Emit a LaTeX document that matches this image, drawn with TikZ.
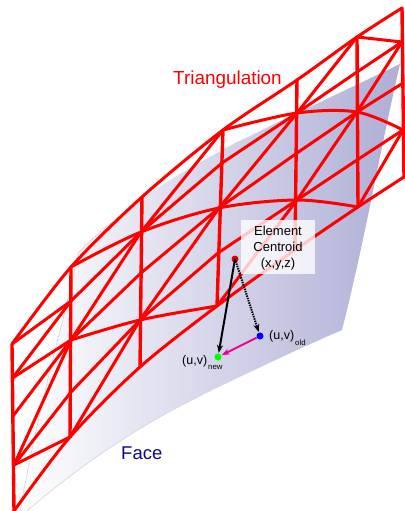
\documentclass[tikz,border=0pt]{standalone}
\usepackage{fontspec}
\setmainfont{Liberation Sans}
\usetikzlibrary{arrows.meta}
\definecolor{faceR}{RGB}{174,174,214}
\definecolor{edgeG}{RGB}{215,215,220}
\definecolor{navyT}{RGB}{10,10,130}
\tikzset{
  mesh/.style={draw=red,line width=3pt,line join=round,line cap=round},
  meshv/.style={draw=red,line width=3.4pt,line join=round,line cap=round},
  dot/.style={circle,inner sep=0pt,minimum size=7pt},
  lab/.style={inner sep=0pt,anchor=base west,font=\fontsize{12.5}{15}\selectfont},
  subl/.style={inner sep=0pt,anchor=base west,font=\fontsize{7.8}{9}\selectfont},
  arr/.style={line width=2pt,-{Stealth[length=8pt,width=6pt]},shorten >=0.5pt}
}
\begin{document}
\begin{tikzpicture}[x=1pt,y=-1pt]
\useasboundingbox (0,0) rectangle (404,511);
% surface
\path[left color=white,right color=faceR,shading angle=90]
  (400,64) -- (310,107) .. controls (280,120) and (260,132) .. (235,143)
  .. controls (205,160) and (170,178) .. (143,198)
  .. controls (120,215) and (95,235) .. (78,253) -- (75,267)
  .. controls (65,320) and (45,375) .. (20,511) -- (27,511)
  .. controls (80,465) and (140,425) .. (202,395)
  .. controls (250,372) and (300,348) .. (342,330)
  .. controls (365,240) and (380,150) .. (400,64) -- cycle;
\draw[edgeG,line width=.7pt] (143,198) .. controls (120,215) and (95,235) .. (78,253) -- (75,267)
  .. controls (65,320) and (45,375) .. (20,511);
\draw[edgeG,line width=.7pt] (27,511) .. controls (80,465) and (140,425) .. (202,395);
% mesh vertices
\foreach \n/\p in {a0/{12,344},a1/{12.5,378},a2/{13,416},a3/{14,465},a4/{14,511},
  b0/{71,267},b1/{71,301},b2/{71,340},b3/{71,392},b4/{70,437},
  c0/{142,197},c1/{141,232},c2/{141,273},c3/{140,320},c4/{140,367},
  d0/{223,130},d1/{222,163},d2/{219,208},d3/{218,253},d4/{217,306},
  e0/{297,80},e1/{297,113},e2/{297,153},e3/{297,200},e4/{295,250},
  f0/{357,37},f1/{357,72},f2/{357,112},f3/{357,160},f4/{358,207},
  g0/{402,8},g1/{402,42},g2/{403,83},g3/{403,130},g4/{404,177}}
  {\coordinate (\n) at (\p);}
% verticals
\draw[meshv] (a0) -- (a4);
\draw[meshv] (b0) -- (b4);
\draw[meshv] (c0) -- (c4);
\draw[meshv] (d0) -- (d4);
\draw[meshv] (e0) -- (e4);
\draw[meshv] (f0) -- (f4);
\draw[meshv] (g0) -- (g4);
% long rows
\draw[mesh] plot[smooth,tension=.5] coordinates {(a0) (b0) (c0) (d0) (e0) (f0) (g0)};
\draw[mesh] plot[smooth,tension=.5] coordinates {(a4) (b4) (c4) (d4) (e4) (f4) (g4)};
\draw[mesh] (a0) -- (b1);
\draw[mesh] (a1) -- (b1) -- (c1);
\draw[mesh] (a1) -- (b2);
\draw[mesh] (a2) -- (b2);
\draw[mesh] (a3) -- (b2);
\draw[mesh] (a3) -- (b3) -- (c3);
\draw[mesh] (a3) -- (b4);
\draw[mesh] (b4) -- (c3);
\draw[mesh] (b2) -- (c2) -- (d2);
\draw[mesh] (b2) -- (c1);
\draw[mesh] (c1) -- (d0);
\draw[mesh] (c1) -- (d1) -- (e1);
\draw[mesh] (c3) -- (d2);
\draw[mesh] (c3) -- (d3) -- (e3);
\draw[mesh] (d2) -- (e1);
\draw[mesh] (d2) -- (e2) -- (f2) -- (g2);
\draw[mesh] (d4) -- (e3);
\draw[mesh] (e1) -- (f0);
\draw[mesh] (e1) -- (f1) -- (g1);
\draw[mesh] (f2) -- (g1);
\draw[mesh] (e3) -- (f2);
\draw[mesh] (e3) -- (f3) -- (g3);
\draw[mesh] (f4) -- (g3);
% curved rows
\draw[mesh] plot[smooth,tension=.55] coordinates {(b0) (c1) (d2) (e3) (f4)};
\draw[mesh] plot[smooth,tension=.55] coordinates {(d0) (e1) (f2) (g3)};
\draw[mesh] plot[smooth,tension=.55] coordinates {(f0) (g1)};
\draw[mesh] plot[smooth,tension=.55] coordinates {(b2) (c3) (d4)};
% texts
\node[red,inner sep=0pt,anchor=base west,font=\fontsize{18.9}{22}\selectfont] (tri) at (173,84.5) {Triangulation};
\node[navyT,inner sep=0pt,anchor=base west,font=\fontsize{18.5}{22}\selectfont] (face) at (121,459) {Face};
% label box
\node[fill=white,fill opacity=.78,text opacity=1,minimum width=74pt,minimum height=54pt,inner sep=0pt] (box) at (278,247) {};
\node[inner sep=0pt,align=center,font=\fontsize{13}{15.8}\selectfont] (boxt) at (278,248) {Element\\Centroid\\(x,y,z)};
% points
\node[dot,fill=red!90!black] (cen) at (235,259) {};
\node[dot,fill=blue] (old) at (260,336) {};
\node[dot,fill=green] (new) at (218,357) {};
\draw[arr,black] (cen.center) -- (new);
\draw[arr,black,dash pattern=on 1.4pt off 1pt] (cen.center) -- (old);
\draw[arr,magenta] (old) -- (new);
% point labels
\node[lab] (luo) at (269,339.5) {(u,v)};
\node[subl] (luos) at (295,345) {old};
\node[lab] (lun) at (182,364) {(u,v)};
\node[subl] (luns) at (208,369.5) {new};
\end{tikzpicture}
\end{document}
